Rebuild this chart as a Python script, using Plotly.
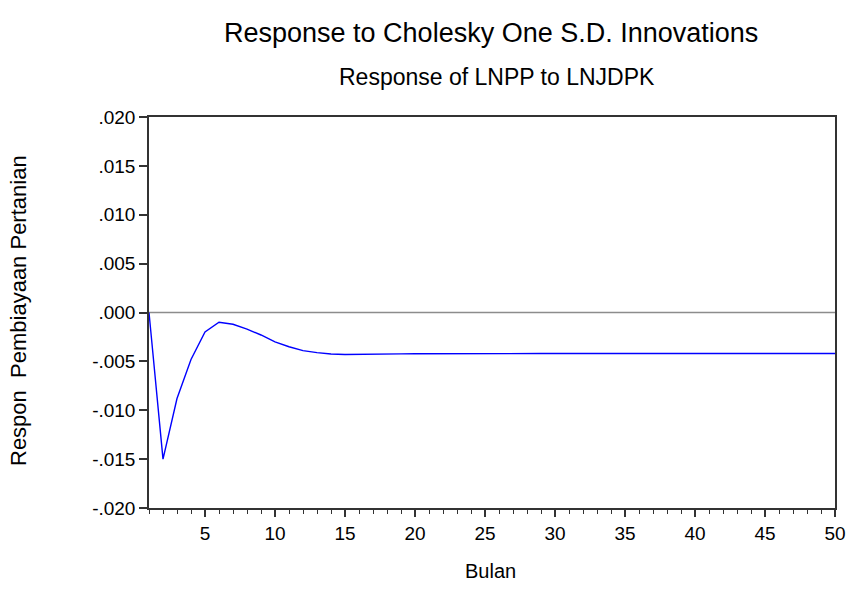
import plotly.graph_objects as go

periods = list(range(1, 51))
response = [0.0, -0.0150, -0.0088, -0.0048, -0.0020, -0.0010, -0.0012, -0.0017, -0.0023, -0.0030,
            -0.0035, -0.0039, -0.0041, -0.00425, -0.0043, -0.0043, -0.00428, -0.00425, -0.00423, -0.00422,
            -0.00421, -0.0042, -0.0042, -0.0042, -0.0042, -0.0042, -0.0042, -0.0042, -0.0042, -0.0042,
            -0.0042, -0.0042, -0.0042, -0.0042, -0.0042, -0.0042, -0.0042, -0.0042, -0.0042, -0.0042,
            -0.0042, -0.0042, -0.0042, -0.0042, -0.0042, -0.0042, -0.0042, -0.0042, -0.0042, -0.0042]
y_tickvals = [0.020, 0.015, 0.010, 0.005, 0.0, -0.005, -0.010, -0.015, -0.020]
y_ticktext = [".020", ".015", ".010", ".005", ".000", "-.005", "-.010", "-.015", "-.020"]
x_tickvals = [5, 10, 15, 20, 25, 30, 35, 40, 45, 50]

FONT = "Liberation Sans, Arial, sans-serif"
W, H = 847, 605
ML, MR, MT, MB = 149, 12, 117, 97
PW, PH = W - ML - MR, H - MT - MB


def px_x(px):
    return (px - ML) / PW


def px_y(py):
    return (H - MB - py) / PH


fig = go.Figure()
fig.add_trace(go.Scatter(x=periods, y=response, mode="lines",
                         line=dict(color="#0000ff", width=1.4), showlegend=False))
fig.add_hline(y=0, line=dict(color="#8c8c8c", width=1.6), layer="below")

fig.update_layout(
    width=W, height=H,
    margin=dict(l=ML, r=MR, t=MT, b=MB, autoexpand=False),
    paper_bgcolor="white", plot_bgcolor="white",
    font=dict(family=FONT, size=19, color="black"),
    annotations=[
        dict(text="Response to Cholesky One S.D. Innovations", x=px_x(491), y=px_y(33),
             xref="paper", yref="paper", xanchor="center", yanchor="middle",
             showarrow=False, font=dict(size=27)),
        dict(text="Response of LNPP to LNJDPK", x=px_x(497), y=px_y(77),
             xref="paper", yref="paper", xanchor="center", yanchor="middle",
             showarrow=False, font=dict(size=23)),
        dict(text="Bulan", x=px_x(490), y=px_y(571),
             xref="paper", yref="paper", xanchor="center", yanchor="middle",
             showarrow=False, font=dict(size=20)),
        dict(text="Respon  Pembiayaan Pertanian", x=px_x(18), y=px_y(311),
             xref="paper", yref="paper", xanchor="center", yanchor="middle", textangle=-90,
             showarrow=False, font=dict(size=22)),
    ],
)

fig.update_xaxes(range=[1, 50], tickvals=x_tickvals, ticks="outside", ticklen=7, tickwidth=1.5,
                 tickcolor="#333", showline=True, linecolor="#333", linewidth=1.5, mirror=True,
                 showgrid=False, zeroline=False, tickfont=dict(size=19), automargin=False,
                 minor=dict(dtick=1, tick0=1, ticks="outside", ticklen=4, tickwidth=1,
                            tickcolor="#333", showgrid=False))
fig.update_yaxes(range=[-0.020, 0.020], tickvals=y_tickvals, ticktext=y_ticktext, ticks="outside",
                 ticklen=8, tickwidth=1.5, tickcolor="#333", showline=True, linecolor="#333",
                 linewidth=1.5, mirror=True, showgrid=False, zeroline=False, tickfont=dict(size=19),
                 automargin=False)

fig.write_html("out.html")
